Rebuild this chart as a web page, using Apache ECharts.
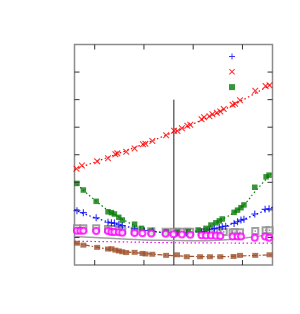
<!DOCTYPE html>
<html>
<head>
<meta charset="utf-8">
<script src="https://cdn.jsdelivr.net/npm/echarts@6/dist/echarts.min.js"></script>
<style>html,body{margin:0;padding:0;background:#fff}#c{width:300px;height:314px}</style>
</head>
<body>
<div id="c"></div>
<script>
// Axis ranges and tick positions (the reference shows no tick labels)
var xRange = [0.59, 4.61];
var xTicks = [1, 2, 3, 4];
var yRange = [1, 9];
var yTicks = [2, 3, 4, 5, 6, 7, 8];

var bluePts = [[0.64,2.97],[0.77,2.90],[1.03,2.71],[1.27,2.55],[1.34,2.53],[1.40,2.52],[1.49,2.48],[1.56,2.43],[1.81,2.31],[2.00,2.25],[2.17,2.22],[2.45,2.17],[2.67,2.15],[2.87,2.16],[3.17,2.20],[3.22,2.22],[3.33,2.28],[3.43,2.33],[3.53,2.37],[3.59,2.39],[3.66,2.41],[3.83,2.51],[3.90,2.57],[3.97,2.63],[4.03,2.66],[4.25,2.85],[4.46,3.02],[4.54,3.04]];
var blueFit = [[0.59,3.00],[1.0,2.72],[1.5,2.46],[2.0,2.28],[2.5,2.18],[3.0,2.20],[3.5,2.34],[4.0,2.64],[4.61,3.10]];

var redPts = [[0.63,4.49],[0.74,4.61],[1.05,4.76],[1.27,4.87],[1.42,5.02],[1.46,5.05],[1.64,5.11],[1.81,5.23],[1.98,5.38],[2.03,5.40],[2.17,5.50],[2.45,5.71],[2.61,5.87],[2.68,5.86],[2.77,5.96],[2.88,6.05],[2.94,6.09],[3.17,6.29],[3.22,6.36],[3.33,6.40],[3.39,6.47],[3.48,6.52],[3.55,6.57],[3.62,6.66],[3.80,6.81],[3.85,6.85],[3.95,6.98],[4.26,7.32],[4.47,7.49],[4.55,7.52]];
var redFit = [[0.59,4.47],[1.0,4.73],[1.5,5.06],[2.0,5.39],[2.5,5.75],[3.0,6.12],[3.5,6.53],[4.0,6.98],[4.61,7.58]];

var greenPts = [[0.64,3.96],[0.77,3.72],[1.03,3.31],[1.27,2.93],[1.34,2.90],[1.40,2.85],[1.49,2.73],[1.56,2.63],[1.81,2.48],[1.95,2.33],[2.15,2.23],[2.45,2.20],[2.68,2.19],[2.90,2.21],[3.10,2.27],[3.26,2.33],[3.36,2.45],[3.46,2.53],[3.53,2.60],[3.59,2.67],[3.83,2.91],[3.90,2.99],[3.97,3.08],[4.03,3.18],[4.25,3.82],[4.48,4.20],[4.54,4.26]];
var greenFit = [[0.59,4.02],[1.0,3.36],[1.5,2.73],[2.0,2.33],[2.5,2.18],[3.0,2.22],[3.5,2.57],[4.0,3.15],[4.25,3.65],[4.61,4.38]];

var grayPts = [[0.64,2.33],[0.77,2.33],[1.03,2.33],[1.27,2.31],[1.34,2.31],[1.40,2.31],[1.49,2.27],[1.56,2.25],[1.81,2.24],[2.15,2.22],[2.44,2.21],[2.60,2.21],[2.68,2.21],[2.77,2.21],[2.88,2.21],[2.94,2.21],[3.17,2.20],[3.22,2.20],[3.33,2.20],[3.39,2.20],[3.48,2.20],[3.55,2.20],[3.62,2.20],[3.80,2.19],[3.85,2.19],[3.95,2.19],[4.26,2.23],[4.47,2.26],[4.55,2.26]];
var grayCurve = [[0.59,2.03],[1.5,1.95],[2.0,1.91],[2.5,1.89],[3.0,1.88],[3.5,1.90],[4.0,1.97],[4.61,2.12]];

var magentaPts = [[0.64,2.24],[0.71,2.24],[0.77,2.24],[1.03,2.23],[1.27,2.23],[1.34,2.20],[1.40,2.20],[1.49,2.19],[1.56,2.17],[1.81,2.16],[1.97,2.15],[2.15,2.14],[2.44,2.13],[2.60,2.12],[2.77,2.11],[2.94,2.10],[3.17,2.08],[3.26,2.07],[3.36,2.07],[3.46,2.06],[3.55,2.05],[3.80,2.03],[3.90,2.03],[3.97,2.03],[4.25,1.99],[4.46,2.03],[4.54,1.99]];
var magentaLine = [[0.59,1.86],[1.5,1.84],[2.5,1.81],[3.5,1.80],[4.61,1.79]];

var brownPts = [[0.64,1.79],[0.77,1.72],[1.05,1.64],[1.27,1.58],[1.34,1.59],[1.42,1.54],[1.49,1.51],[1.56,1.48],[1.64,1.45],[1.81,1.46],[1.97,1.42],[2.03,1.40],[2.17,1.39],[2.45,1.35],[2.67,1.37],[2.87,1.30],[3.14,1.30],[3.34,1.30],[3.55,1.30],[3.82,1.31],[3.95,1.35],[4.26,1.35],[4.55,1.37]];
var brownFit = [[0.59,1.80],[1.0,1.66],[1.5,1.51],[2.0,1.42],[2.5,1.35],[3.0,1.31],[3.5,1.30],[4.0,1.33],[4.61,1.37]];

var vLine = [[2.607,1],[2.607,7]];

var PLUS = 'path://M4.2,0 H5.8 V4.2 H10 V5.8 H5.8 V10 H4.2 V5.8 H0 V4.2 H4.2 Z';
var CROSS = 'path://M0,1.2 L1.2,0 L5,3.8 L8.8,0 L10,1.2 L6.2,5 L10,8.8 L8.8,10 L5,6.2 L1.2,10 L0,8.8 L3.8,5 Z';

var TICK_LEN = 5;
var tickLineStyle = {stroke:'#333', lineWidth:1};

function axisOpt(range, extra) {
  return Object.assign({type:'value', min:range[0], max:range[1], axisLine:{show:false, onZero:false},
    splitLine:{show:false}, axisLabel:{show:false}, axisTick:{show:false}}, extra || {});
}

function fitLine(data, color, type, width) {
  return {type:'line', data:data, showSymbol:false, symbol:'none', smooth:true, silent:true,
    lineStyle:{color:color, width:width||1, type:type}, z:1};
}

// mirrored inward ticks on bottom/top (x) and left/right (y), positioned via the axes' scales
var xTickSeries = {
  type:'custom', silent:true, z:6, clip:false,
  data:xTicks.map(function(v){ return [v, yRange[0]]; }),
  encode:{x:0, y:1},
  renderItem:function(params, api){
    var v = api.value(0);
    var b = api.coord([v, yRange[0]]), t = api.coord([v, yRange[1]]);
    return {type:'group', children:[
      {type:'line', shape:{x1:b[0], y1:b[1], x2:b[0], y2:b[1]-TICK_LEN}, style:tickLineStyle},
      {type:'line', shape:{x1:t[0], y1:t[1], x2:t[0], y2:t[1]+TICK_LEN}, style:tickLineStyle}
    ]};
  }
};
var yTickSeries = {
  type:'custom', silent:true, z:6, clip:false,
  data:yTicks.map(function(v){ return [xRange[0], v]; }),
  encode:{x:0, y:1},
  renderItem:function(params, api){
    var v = api.value(1);
    var l = api.coord([xRange[0], v]), r = api.coord([xRange[1], v]);
    return {type:'group', children:[
      {type:'line', shape:{x1:l[0], y1:l[1], x2:l[0]+TICK_LEN, y2:l[1]}, style:tickLineStyle},
      {type:'line', shape:{x1:r[0], y1:r[1], x2:r[0]-TICK_LEN, y2:r[1]}, style:tickLineStyle}
    ]};
  }
};

var chart = echarts.init(document.getElementById('c'), null, {renderer:'canvas'});
chart.setOption({
  animation:false,
  backgroundColor:'#fff',
  grid:{left:74.5, top:44.5, width:198, height:220.5, show:true, borderColor:'#8c8c8c', borderWidth:1.5, backgroundColor:'transparent'},
  legend:{
    orient:'vertical', left:224, top:48.5, itemWidth:6, itemHeight:6, itemGap:9.3,
    data:['blue','red','green'], formatter:function(){return '';}, textStyle:{fontSize:1},
    selectedMode:false
  },
  xAxis:axisOpt(xRange),
  yAxis:axisOpt(yRange, {interval:1}),
  series:[
    xTickSeries,
    yTickSeries,
    {type:'line', data:vLine, showSymbol:false, symbol:'none', silent:true, lineStyle:{color:'#222', width:1}, z:1},
    fitLine(grayCurve, '#a0a0a0', 'solid', 1.5),
    fitLine(magentaLine, '#ff00ff', [1.5,2.5], 1.2),
    fitLine(brownFit, '#a0522d', [5,2,1.5,2], 1.2),
    fitLine(blueFit, '#0000ff', [1.5,2.5], 1.2),
    fitLine(redFit, '#ff0000', [1.5,2.5], 1.2),
    fitLine(greenFit, '#008000', [1.5,2.5], 1.2),
    {name:'brown', type:'scatter', data:brownPts, symbol:'rect', symbolSize:[6,5], itemStyle:{color:'#a0522d'}, z:2},
    {name:'gray', type:'scatter', data:grayPts, symbol:'emptyRect', symbolSize:6, itemStyle:{color:'#888', borderColor:'#808080', borderWidth:1}, z:3},
    {name:'graydot', type:'scatter', data:grayPts, symbol:'rect', symbolSize:1.5, itemStyle:{color:'#808080'}, z:3, silent:true},
    {name:'blue', type:'scatter', data:bluePts, symbol:PLUS, symbolSize:7, itemStyle:{color:'#0000ff'}, z:4},
    {name:'red', type:'scatter', data:redPts, symbol:CROSS, symbolSize:6.5, itemStyle:{color:'#ff0000'}, z:4},
    {name:'green', type:'scatter', data:greenPts, symbol:'rect', symbolSize:5.5, itemStyle:{color:'#087a08'}, z:4},
    {name:'magenta', type:'scatter', data:magentaPts, symbol:'emptyCircle', symbolSize:6, itemStyle:{color:'#ff00ff', borderColor:'#ff00ff', borderWidth:1.2}, z:5}
  ]
});
</script>
</body>
</html>
